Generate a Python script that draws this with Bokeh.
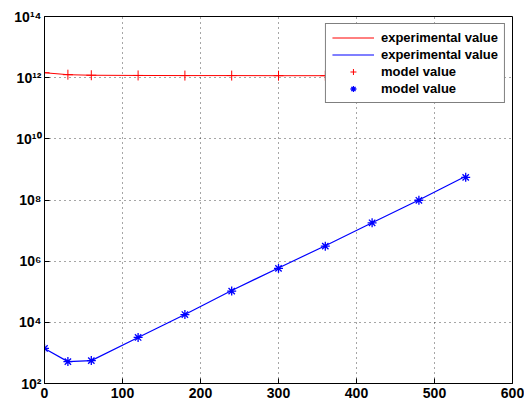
from bokeh.plotting import figure
from bokeh.models import (Legend, LegendItem, FixedTicker, CustomJSTickFormatter, Range1d)
from bokeh.embed import file_html
from bokeh.resources import INLINE

# data
time_points = [0, 30, 60, 120, 180, 240, 300, 360, 420, 480, 540]
red_experimental = [1.45e12, 1.25e12, 1.2e12, 1.18e12, 1.17e12, 1.17e12, 1.16e12,
                    1.16e12, 1.16e12, 1.16e12, 1.16e12]
red_model = [1.45e12, 1.25e12, 1.2e12, 1.18e12, 1.17e12, 1.17e12, 1.16e12,
             1.16e12, 1.16e12, 1.16e12, 1.16e12]
blue_experimental = [1.4e3, 5.2e2, 5.6e2, 3.2e3, 1.8e4, 1.1e5, 6.0e5, 3.2e6, 1.8e7, 1.0e8, 6.0e8]
blue_model = [1.4e3, 5.2e2, 5.6e2, 3.2e3, 1.8e4, 1.05e5, 5.8e5, 3.1e6, 1.8e7, 9.8e7, 5.5e8]

x_ticks = [0, 100, 200, 300, 400, 500, 600]
y_ticks = [1e2, 1e4, 1e6, 1e8, 1e10, 1e12, 1e14]

p = figure(width=524, height=403, x_range=Range1d(0, 600), y_range=Range1d(1e2, 1e14),
           y_axis_type="log", output_backend="svg", toolbar_location=None,
           min_border_left=44, min_border_top=16, min_border_right=12, min_border_bottom=20)
p.background_fill_color = "white"
p.border_fill_color = "white"
p.outline_line_color = "black"
p.outline_line_width = 1

sup_fmt = CustomJSTickFormatter(code="""
const e = Math.round(Math.log10(tick));
const sup = {'0':'\u2070','1':'\u00b9','2':'\u00b2','3':'\u00b3','4':'\u2074','5':'\u2075','6':'\u2076','7':'\u2077','8':'\u2078','9':'\u2079','-':'\u207b'};
return '10' + String(e).split('').map(c => sup[c]).join('');
""")

p.xaxis.ticker = FixedTicker(ticks=x_ticks)
p.yaxis.ticker = FixedTicker(ticks=y_ticks)
p.yaxis.formatter = sup_fmt

for ax in list(p.xaxis) + list(p.yaxis):
    ax.major_tick_in = 5
    ax.major_tick_out = 0
    ax.minor_tick_line_color = None
    ax.axis_line_color = "black"
    ax.major_tick_line_color = "black"
    ax.major_label_text_font = "Liberation Sans"
    ax.major_label_text_font_style = "bold"
    ax.major_label_text_font_size = "14px"
    ax.major_label_text_color = "black"
p.xaxis.major_label_standoff = 4
p.yaxis.major_label_standoff = 3

p.xgrid.ticker = FixedTicker(ticks=x_ticks)
p.ygrid.ticker = FixedTicker(ticks=y_ticks)
for g in [p.xgrid[0], p.ygrid[0]]:
    g.grid_line_color = "black"
    g.grid_line_alpha = 0.7
    g.grid_line_dash = "1 4"
    g.grid_line_width = 1

r1 = p.line(time_points, red_experimental, line_color="#ff0000", line_width=1)
r2 = p.line(time_points, blue_experimental, line_color="#0000ff", line_width=1.2)
r3 = p.scatter(time_points, red_model, marker="cross", size=10, line_color="#ff0000", line_width=1)
r4 = p.scatter(time_points, blue_model, marker="asterisk", size=9, line_color="#0000ff", line_width=1.3)

legend = Legend(items=[
    LegendItem(label="experimental value", renderers=[r1]),
    LegendItem(label="experimental value", renderers=[r2]),
    LegendItem(label="model value", renderers=[r3]),
    LegendItem(label="model value", renderers=[r4]),
], location="top_right")
legend.glyph_width = 42
legend.glyph_height = 15
legend.label_height = 15
legend.spacing = 2
legend.padding = 6
legend.margin = 7
legend.label_standoff = 7
legend.label_text_font = "Liberation Sans"
legend.label_text_font_style = "bold"
legend.label_text_font_size = "13px"
legend.label_text_color = "black"
legend.border_line_color = "black"
legend.border_line_width = 1
legend.background_fill_color = "white"
legend.background_fill_alpha = 1
p.add_layout(legend, "center")

with open("out.html", "w", encoding="utf-8") as f:
    f.write(file_html(p, INLINE))
